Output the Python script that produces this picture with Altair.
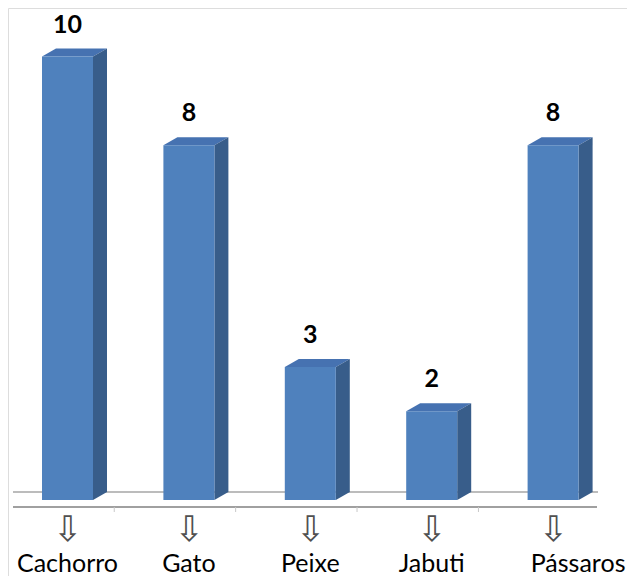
import altair as alt
import pandas as pd

categories = ["Cachorro", "Gato", "Peixe", "Jabuti", "Pássaros"]
values = [10, 8, 3, 2, 8]

# ---- geometry / style constants (pixels converted to data units) ----
W, H = 619, 568
X_PX_PER_UNIT = 121.4
X0_PX = 59.5
Y_PX_PER_UNIT = 44.35
Y0_PX = 492
x_dom = [-X0_PX / X_PX_PER_UNIT, (W - X0_PX) / X_PX_PER_UNIT]
y_dom = [-(H - Y0_PX) / Y_PX_PER_UNIT, Y0_PX / Y_PX_PER_UNIT]

HW = 25.5 / X_PX_PER_UNIT      # half width of front face
DX = 14 / X_PX_PER_UNIT        # depth (horizontal)
DY = 8 / Y_PX_PER_UNIT         # depth (vertical)

FRONT = "#4F81BD"
SIDE = "#385D8A"
TOP = "#4672B1"

xscale = alt.Scale(domain=x_dom, nice=False, zero=False)
yscale = alt.Scale(domain=y_dom, nice=False, zero=False)
xs = alt.X("x:Q", scale=xscale, axis=None)
ys = alt.Y("y:Q", scale=yscale, axis=None, stack=False)

front_rows, side_rows, top_rows, lab_rows = [], [], [], []
for i, (c, v) in enumerate(zip(categories, values)):
    front_rows.append({"cat": c, "x": i - HW, "x2": i + HW, "y": 0, "y2": v})
    side_rows += [
        {"cat": c, "x": i + HW, "y": v, "y2": 0},
        {"cat": c, "x": i + HW + DX, "y": v + DY, "y2": DY},
    ]
    top_rows += [
        {"cat": c, "x": i - HW, "y": v, "y2": v},
        {"cat": c, "x": i - HW + DX, "y": v + DY, "y2": v},
        {"cat": c, "x": i + HW, "y": v + DY, "y2": v},
        {"cat": c, "x": i + HW + DX, "y": v + DY, "y2": v + DY},
    ]
    lab_rows.append({"cat": c, "x": i, "y": v, "label": str(v)})

front_df = pd.DataFrame(front_rows)
side_df = pd.DataFrame(side_rows)
top_df = pd.DataFrame(top_rows)
lab_df = pd.DataFrame(lab_rows)

# floor lines
BACK_LINE_Y = 8 / Y_PX_PER_UNIT
AXIS_LINE_Y = -7 / Y_PX_PER_UNIT
lines_df = pd.DataFrame([
    {"x": (5 - X0_PX) / X_PX_PER_UNIT, "x2": (590 - X0_PX) / X_PX_PER_UNIT, "y": BACK_LINE_Y, "w": "back"},
    {"x": (5 - X0_PX) / X_PX_PER_UNIT, "x2": (589 - X0_PX) / X_PX_PER_UNIT, "y": AXIS_LINE_Y, "w": "axis"},
])
n = len(categories)
tick_df = pd.DataFrame({"x": [i + 0.385 for i in range(n - 1)],
                        "y": [AXIS_LINE_Y] * (n - 1),
                        "y2": [AXIS_LINE_Y - 5 / Y_PX_PER_UNIT] * (n - 1)})

ARROW_Y = -30 / Y_PX_PER_UNIT
CAT_Y = -64 / Y_PX_PER_UNIT
cat_df = pd.DataFrame({"cat": categories, "x": list(range(n)),
                       "ya": [ARROW_Y] * n, "yc": [CAT_Y] * n, "arrow": ["⇩"] * n})

back_line = alt.Chart(lines_df).transform_filter("datum.w == 'back'").mark_rule(
    color="#A6A6A6", strokeWidth=1.5).encode(x=xs, x2="x2:Q", y=ys)
axis_line = alt.Chart(lines_df).transform_filter("datum.w == 'axis'").mark_rule(
    color="#A0A0A0", strokeWidth=2).encode(x=xs, x2="x2:Q", y=ys)
ticks = alt.Chart(tick_df).mark_rule(color="#C8C8C8", strokeWidth=1).encode(x=xs, y=ys, y2="y2:Q")

top = alt.Chart(top_df).mark_area(color=TOP, orient="vertical", interpolate="linear").encode(
    x=xs, y=ys, y2="y2:Q", detail="cat:N")
side = alt.Chart(side_df).mark_area(color=SIDE, orient="vertical", interpolate="linear").encode(
    x=xs, y=ys, y2="y2:Q", detail="cat:N")
front = alt.Chart(front_df).mark_rect(color=FRONT).encode(x=xs, x2="x2:Q", y=ys, y2="y2:Q")

value_labels = alt.Chart(lab_df).mark_text(
    font="Lato", fontSize=25, fontWeight="bold", color="#000000", dy=-32, baseline="middle"
).encode(x=xs, y=ys, text="label:N")

arrows = alt.Chart(cat_df).mark_text(
    font="DejaVu Sans", fontSize=35, color="#505050", baseline="middle"
).encode(x=xs, y=alt.Y("ya:Q", scale=yscale, axis=None), text="arrow:N")

cat_text_y = alt.Y("yc:Q", scale=yscale, axis=None)
cat_labels = alt.Chart(cat_df).transform_filter(f"datum.cat != '{categories[-1]}'").mark_text(
    font="Lato", fontSize=25, color="#000000", baseline="middle"
).encode(x=xs, y=cat_text_y, text="cat:N")
cat_last = alt.Chart(cat_df).transform_filter(f"datum.cat == '{categories[-1]}'").mark_text(
    font="Lato", fontSize=25, color="#000000", baseline="middle", dx=25
).encode(x=xs, y=cat_text_y, text="cat:N")

chart = alt.layer(
    back_line, top, side, front, axis_line, ticks, value_labels, arrows, cat_labels, cat_last
).properties(width=W, height=H, padding=0, autosize=alt.AutoSizeParams(type="none")).configure_view(
    stroke="transparent", strokeWidth=0).configure(background="white")

chart.save("out.html", embed_options={"renderer": "svg", "actions": False})
